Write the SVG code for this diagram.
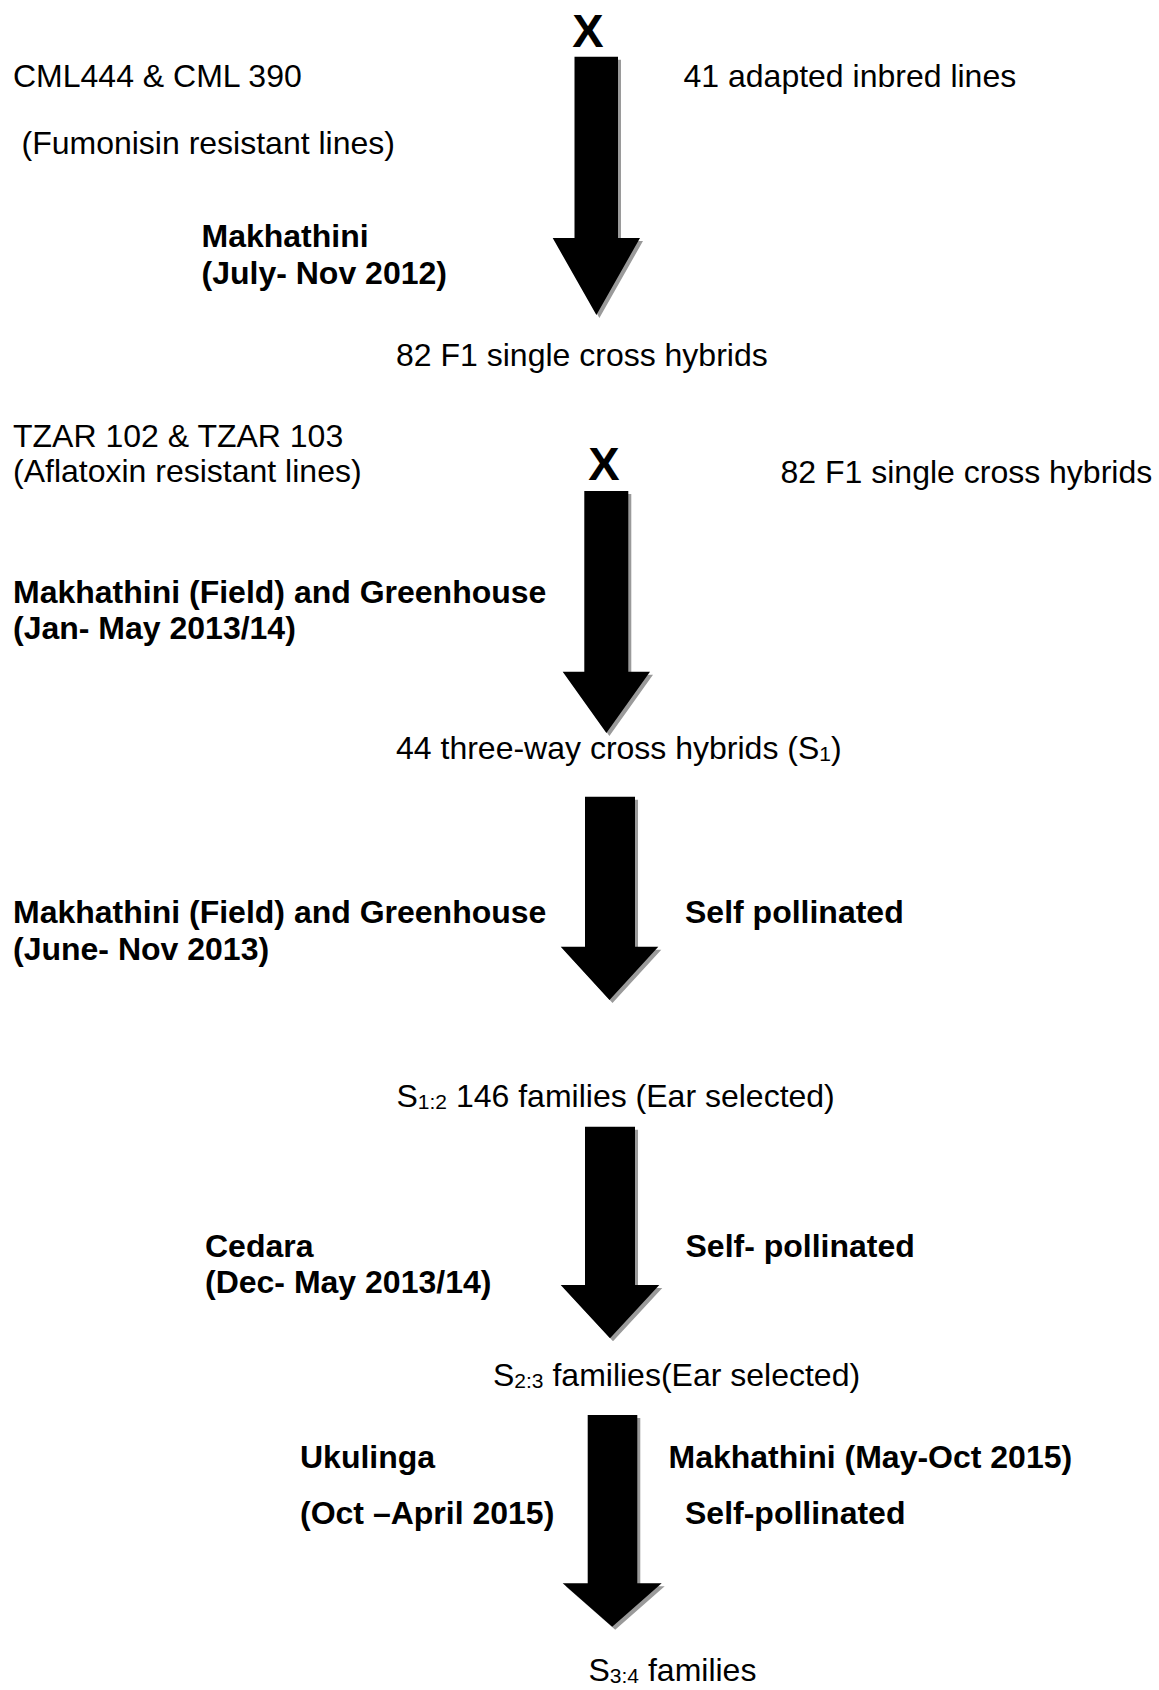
<svg xmlns="http://www.w3.org/2000/svg" width="1159" height="1690" viewBox="0 0 1159 1690">
<style>
  text { font-family: "Liberation Sans", Arial, sans-serif; font-size: 32px; fill: #000; }
  .b { font-weight: bold; }
  .x { font-weight: bold; font-size: 47px; text-anchor: middle; }
  .sub { font-size: 21px; }
  .arrow { fill: #000; }
  .shadow { fill: #9a9a9a; }
</style>
<defs>
  <path id="a1" d="M574.5,56.7 H618 V238 H640 L596.4,315 L552.7,238 H574.5 Z"/>
  <path id="a2" d="M584.3,491 H628.3 V671.7 H650 L606.4,733 L562.7,671.7 H584.3 Z"/>
  <path id="a3" d="M585,796.7 H635 V946.7 H658.3 L609.5,1000 L560.7,946.7 H585 Z"/>
  <path id="a4" d="M585,1126.7 H635 V1285 H659.3 L610,1338.3 L560.7,1285 H585 Z"/>
  <path id="a5" d="M587.7,1415 H637.3 V1583.3 H661.7 L612.2,1626.7 L562.7,1583.3 H587.7 Z"/>
</defs>
<rect width="1159" height="1690" fill="#fff"/>

<g id="connectors">
  <use href="#a1" class="shadow" transform="translate(3,3)"/>
  <use href="#a1" class="arrow"/>
  <use href="#a2" class="shadow" transform="translate(3,3)"/>
  <use href="#a2" class="arrow"/>
  <use href="#a3" class="shadow" transform="translate(3,3)"/>
  <use href="#a3" class="arrow"/>
  <use href="#a4" class="shadow" transform="translate(3,3)"/>
  <use href="#a4" class="arrow"/>
  <use href="#a5" class="shadow" transform="translate(3,3)"/>
  <use href="#a5" class="arrow"/>
  <text class="x" x="588" y="47">X</text>
  <text class="x" x="604" y="480">X</text>
</g>

<g id="parents1">
  <text x="13" y="86.5">CML444 &amp; CML 390</text>
  <text x="21.5" y="154"> (Fumonisin resistant lines)</text>
</g>
<g id="inbreds">
  <text x="683.5" y="86.5">41 adapted inbred lines</text>
</g>
<g id="site1">
  <text class="b" x="201.5" y="247">Makhathini</text>
  <text class="b" x="201.5" y="284">(July- Nov 2012)</text>
</g>
<g id="f1">
  <text x="396" y="366">82 F1 single cross hybrids</text>
</g>
<g id="parents2">
  <text x="13" y="447">TZAR 102 &amp; TZAR 103</text>
  <text x="13" y="482">(Aflatoxin resistant lines)</text>
</g>
<g id="f1b">
  <text x="780.5" y="483">82 F1 single cross hybrids</text>
</g>
<g id="site2">
  <text class="b" x="13" y="602.5">Makhathini (Field) and Greenhouse</text>
  <text class="b" x="13" y="638.5">(Jan- May 2013/14)</text>
</g>
<g id="threeway">
  <text x="396" y="759">44 three-way cross hybrids (S<tspan class="sub" dy="2">1</tspan><tspan dy="-2">)</tspan></text>
</g>
<g id="site3">
  <text class="b" x="13" y="922.5">Makhathini (Field) and Greenhouse</text>
  <text class="b" x="13" y="960">(June- Nov 2013)</text>
</g>
<g id="self1">
  <text class="b" x="685" y="922.5">Self pollinated</text>
</g>
<g id="s12">
  <text x="396.5" y="1106.5">S<tspan class="sub" dy="2">1:2</tspan><tspan dy="-2"> 146 families (Ear selected)</tspan></text>
</g>
<g id="site4">
  <text class="b" x="205" y="1256.5">Cedara</text>
  <text class="b" x="205" y="1293">(Dec- May 2013/14)</text>
</g>
<g id="self2">
  <text class="b" x="685.5" y="1256.5">Self- pollinated</text>
</g>
<g id="s23">
  <text x="493" y="1385.5">S<tspan class="sub" dy="2">2:3</tspan><tspan dy="-2">  families(Ear selected)</tspan></text>
</g>
<g id="site5">
  <text class="b" x="300" y="1468">Ukulinga</text>
  <text class="b" x="300" y="1524">(Oct –April 2015)</text>
</g>
<g id="site6">
  <text class="b" x="668.5" y="1468">Makhathini (May-Oct 2015)</text>
  <text class="b" x="685" y="1524">Self-pollinated</text>
</g>
<g id="s34">
  <text x="588.5" y="1681">S<tspan class="sub" dy="2">3:4</tspan><tspan dy="-2"> families</tspan></text>
</g>
</svg>
